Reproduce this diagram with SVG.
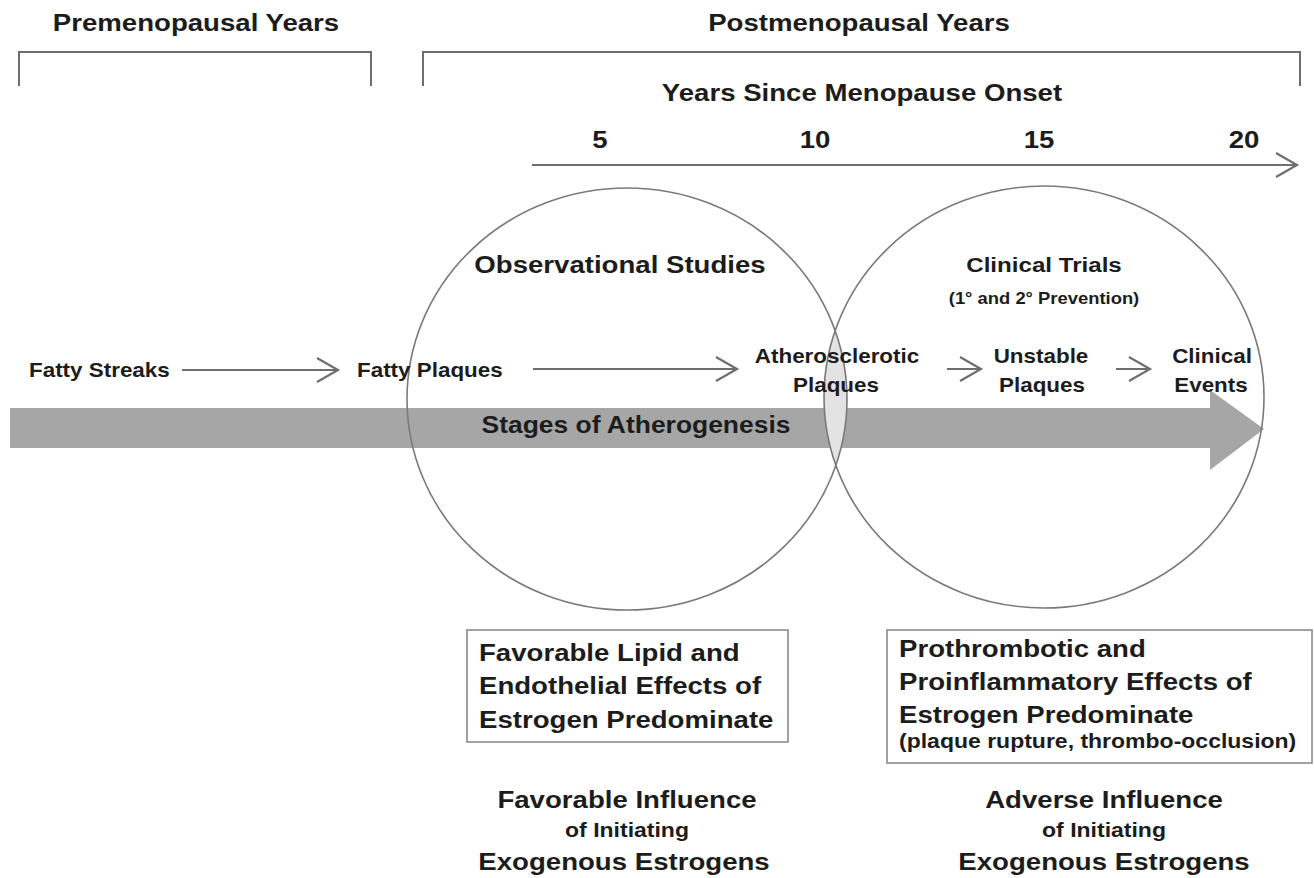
<svg xmlns="http://www.w3.org/2000/svg" width="1314" height="878" viewBox="0 0 1314 878">
<defs>
<style>
.t{font-family:"Liberation Sans",Arial,sans-serif;font-weight:bold;fill:#1c1c1c}
.s24{font-size:24px}
.s23{font-size:23px}
.s21{font-size:21px}
.s20{font-size:20px}
.s195{font-size:19.5px}
.s16{font-size:16px}
.m{text-anchor:middle}
.ln{stroke:#6e6e6e;stroke-width:2;fill:none}
.arr{stroke:#6e6e6e;stroke-width:2;fill:none;marker-end:url(#chev)}
.circ{fill:none;stroke:#7a7a7a;stroke-width:1.6}
.box{fill:#fff;stroke:#8a8a8a;stroke-width:1.6}
</style>
<marker id="chev" markerWidth="26" markerHeight="28" refX="23" refY="13" orient="auto" markerUnits="userSpaceOnUse">
<path d="M2,1 L23,13 L2,25" fill="none" stroke="#6e6e6e" stroke-width="2.2"/>
</marker>
<clipPath id="clipL"><ellipse cx="627" cy="399" rx="220" ry="211"/></clipPath>
</defs>
<rect width="1314" height="878" fill="#fff"/>

<g id="headers">
<path class="ln" d="M19,86 V52 H371 V86"/>
<path class="ln" d="M423,86 V52 H1300 V86"/>
<text class="t s24 m" transform="translate(196,31) scale(1.15,1)">Premenopausal Years</text>
<text class="t s24 m" transform="translate(859,31) scale(1.15,1)">Postmenopausal Years</text>
<text class="t s24 m" transform="translate(862,101) scale(1.15,1)">Years Since Menopause Onset</text>
</g>

<g id="timeline">
<line class="arr" x1="532" y1="165" x2="1297" y2="165"/>
<text class="t s24 m" transform="translate(600,148) scale(1.15,1)">5</text>
<text class="t s24 m" transform="translate(815,148) scale(1.15,1)">10</text>
<text class="t s24 m" transform="translate(1039,148) scale(1.15,1)">15</text>
<text class="t s24 m" transform="translate(1244,148) scale(1.15,1)">20</text>
</g>

<g id="band">
<path d="M10,408 H1210 V390 L1264,429 L1210,470 V448 H10 Z" fill="#a6a6a6"/>
</g>

<g id="overlap">
<ellipse cx="1044" cy="397" rx="220" ry="211" fill="#e3e3e3" clip-path="url(#clipL)"/>
</g>

<g id="observational-studies">
<ellipse class="circ" cx="627" cy="399" rx="220" ry="211"/>
<text class="t s24 m" transform="translate(620,273) scale(1.15,1)">Observational Studies</text>
</g>

<g id="clinical-trials">
<ellipse class="circ" cx="1044" cy="397" rx="220" ry="211"/>
<text class="t s21 m" transform="translate(1044,272) scale(1.15,1)">Clinical Trials</text>
<text class="t s16 m" transform="translate(1044,304) scale(1.15,1)">(1° and 2° Prevention)</text>
</g>

<g id="stages-label">
<text class="t s23 m" transform="translate(636,433) scale(1.15,1)">Stages of Atherogenesis</text>
</g>

<g id="connectors">
<line class="arr" x1="182" y1="370" x2="338" y2="370"/>
<line class="arr" x1="533" y1="369" x2="737" y2="369"/>
<line class="arr" x1="947" y1="369" x2="981" y2="369"/>
<line class="arr" x1="1116" y1="369" x2="1150" y2="369"/>
</g>

<g id="fatty-streaks">
<text class="t s195" transform="translate(29,377) scale(1.15,1)">Fatty Streaks</text>
</g>
<g id="fatty-plaques">
<text class="t s195" transform="translate(357,377) scale(1.15,1)">Fatty Plaques</text>
</g>
<g id="atherosclerotic-plaques">
<text class="t s195 m" transform="translate(837,363) scale(1.15,1)">Atherosclerotic</text>
<text class="t s195 m" transform="translate(836,392) scale(1.15,1)">Plaques</text>
</g>
<g id="unstable-plaques">
<text class="t s195 m" transform="translate(1041,363) scale(1.15,1)">Unstable</text>
<text class="t s195 m" transform="translate(1042,392) scale(1.15,1)">Plaques</text>
</g>
<g id="clinical-events">
<text class="t s195 m" transform="translate(1212,363) scale(1.15,1)">Clinical</text>
<text class="t s195 m" transform="translate(1211,392) scale(1.15,1)">Events</text>
</g>

<g id="favorable-box">
<rect class="box" x="467" y="630" width="321" height="112"/>
<text class="t s24" transform="translate(479,661) scale(1.15,1)">Favorable Lipid and</text>
<text class="t s24" transform="translate(479,694) scale(1.15,1)">Endothelial Effects of</text>
<text class="t s24" transform="translate(479,728) scale(1.15,1)">Estrogen Predominate</text>
</g>

<g id="prothrombotic-box">
<rect class="box" x="887" y="630" width="425" height="133"/>
<text class="t s24" transform="translate(899,657) scale(1.15,1)">Prothrombotic and</text>
<text class="t s24" transform="translate(899,690) scale(1.15,1)">Proinflammatory Effects of</text>
<text class="t s24" transform="translate(899,723) scale(1.15,1)">Estrogen Predominate</text>
<text class="t s20" transform="translate(899,748) scale(1.15,1)" font-size="20.5">(plaque rupture, thrombo-occlusion)</text>
</g>

<g id="favorable-influence">
<text class="t s24 m" transform="translate(627,808) scale(1.15,1)">Favorable Influence</text>
<text class="t s20 m" transform="translate(627,837) scale(1.15,1)">of Initiating</text>
<text class="t s24 m" transform="translate(624,870) scale(1.15,1)">Exogenous Estrogens</text>
</g>

<g id="adverse-influence">
<text class="t s24 m" transform="translate(1104,808) scale(1.15,1)">Adverse Influence</text>
<text class="t s20 m" transform="translate(1104,837) scale(1.15,1)">of Initiating</text>
<text class="t s24 m" transform="translate(1104,870) scale(1.15,1)">Exogenous Estrogens</text>
</g>
</svg>
